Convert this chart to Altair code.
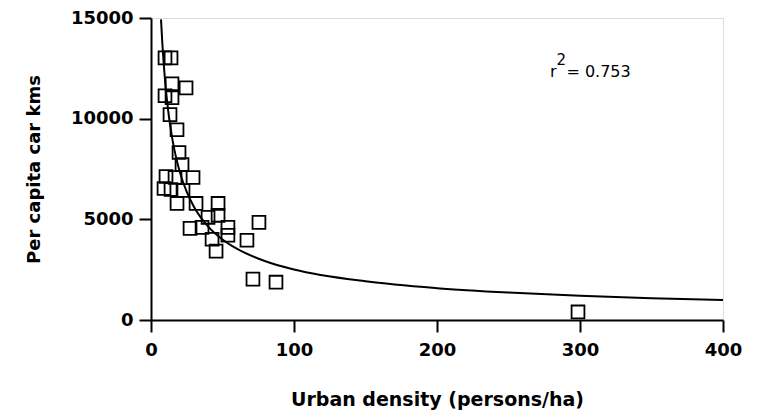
import altair as alt
import pandas as pd

# Scatter data: urban density (persons/ha) vs per capita car kms
density = [9.8, 14.0, 14.7, 24.5, 14.7, 9.8, 13.3, 18.2, 19.6, 21.7, 10.5, 16.8,
           29.4, 9.1, 14.0, 22.4, 18.2, 31.5, 46.9, 39.9, 46.9, 27.3, 35.7, 53.8,
           53.8, 42.7, 45.5, 67.1, 75.5, 71.3, 87.4, 298.6]
car_km = [13020, 13020, 11730, 11530, 11040, 11140, 10200, 9450, 8320, 7720, 7130, 7080,
          7080, 6530, 6480, 6430, 5790, 5790, 5790, 5100, 5200, 4550, 4600, 4600,
          4210, 4010, 3420, 3960, 4850, 2030, 1880, 400]

# Fitted curve
fit_x = [7, 8, 10, 12, 15, 20, 25, 30, 40, 50, 60, 80, 100, 150, 200, 250, 300, 350, 400]
fit_y = [14930, 13660, 11760, 10410, 8960, 7390, 6360, 5630, 4640, 4000, 3540, 2920,
         2510, 1920, 1580, 1360, 1200, 1085, 990]

x_ticks = [0, 100, 200, 300, 400]
y_ticks = [0, 5000, 10000, 15000]

pts = pd.DataFrame({"density": density, "car_km": car_km})
curve = pd.DataFrame({"density": fit_x, "car_km": fit_y})

xscale = alt.Scale(domain=[0, 400], nice=False, zero=False)
yscale = alt.Scale(domain=[0, 15000], nice=False)

FONT = "DejaVu Sans"

xaxis = alt.Axis(values=x_ticks, title="Urban  density  (persons/ha)", grid=False, format="d",
                 tickSize=12, tickWidth=2, tickColor="black", domainColor="black",
                 domainWidth=2, labelFont=FONT, labelFontWeight="bold", labelFontSize=18,
                 labelColor="black", labelPadding=9, titleFont=FONT, titleFontWeight="bold",
                 titleFontSize=19, titleColor="black", titlePadding=31, labelFlush=False)
yaxis = alt.Axis(values=y_ticks, title="Per capita car kms", grid=False, format="d",
                 tickSize=12, tickWidth=2, tickColor="black", domainColor="black",
                 domainWidth=2, labelFont=FONT, labelFontWeight="bold", labelFontSize=18,
                 labelColor="black", labelPadding=6, titleFont=FONT, titleFontWeight="bold",
                 titleFontSize=18, titleColor="black", titlePadding=27, labelFlush=False)

points = alt.Chart(pts).mark_point(shape="square", filled=False, size=165,
                                   strokeWidth=1.8, color="black", opacity=1).encode(
    x=alt.X("density:Q", scale=xscale, axis=xaxis),
    y=alt.Y("car_km:Q", scale=yscale, axis=yaxis),
)

line = alt.Chart(curve).mark_line(color="black", strokeWidth=2, interpolate="monotone",
                                  clip=True).encode(
    x=alt.X("density:Q", scale=xscale),
    y=alt.Y("car_km:Q", scale=yscale),
)

ann = pd.DataFrame({"t": ["r"], "x": [279.0], "y": [12050]})
r_text = alt.Chart(ann).mark_text(align="left", baseline="alphabetic", font=FONT,
                                  fontSize=16, color="black").encode(
    x="x:Q", y="y:Q", text="t:N")
sup = pd.DataFrame({"t": ["2"], "x": [283.6], "y": [12650]})
sup_text = alt.Chart(sup).mark_text(align="left", baseline="alphabetic", font=FONT,
                                    fontSize=15, color="black").encode(
    x="x:Q", y="y:Q", text="t:N")
rest = pd.DataFrame({"t": ["= 0.753"], "x": [290.5], "y": [12050]})
rest_text = alt.Chart(rest).mark_text(align="left", baseline="alphabetic", font=FONT,
                                      fontSize=16, color="black").encode(
    x="x:Q", y="y:Q", text="t:N")

chart = alt.layer(line, points, r_text, sup_text, rest_text).properties(
    width=572, height=302,
    autosize=alt.AutoSizeParams(type="none"),
    padding={"left": 143, "top": 10, "right": 30, "bottom": 90},
).configure_view(stroke="black", strokeWidth=2).configure(background="white")

chart.save("out.html", embed_options={"renderer": "svg", "actions": False})
